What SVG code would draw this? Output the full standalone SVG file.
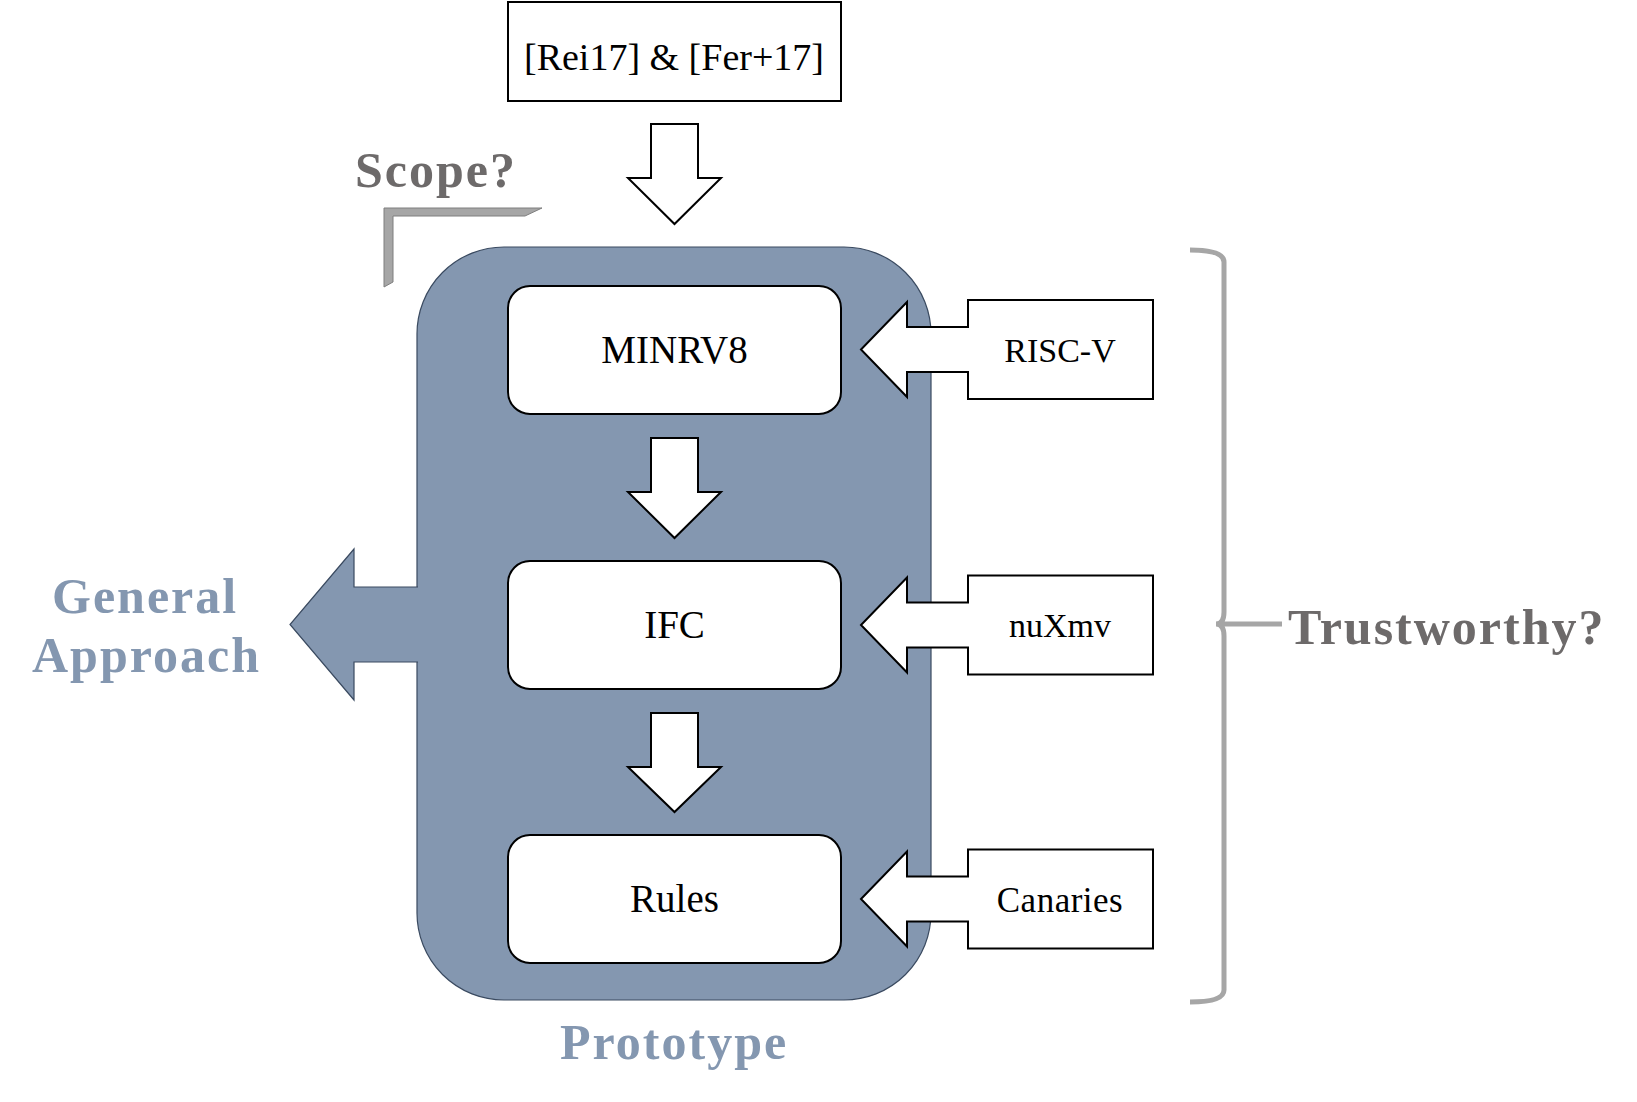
<svg xmlns="http://www.w3.org/2000/svg" width="1637" height="1102" viewBox="0 0 1637 1102">
<style>
.box{fill:#fff;stroke:#000;stroke-width:2}
.arrow{fill:#fff;stroke:#000;stroke-width:2;stroke-linejoin:miter}
.lbl{font-family:"Liberation Serif",serif;fill:#000}
.big{font-family:"Liberation Serif",serif;font-weight:bold;font-size:50px}
.blue{fill:#8497b0}
.gray{fill:#6d6a6a}
</style>
<rect width="1637" height="1102" fill="#fff"/>
<g id="prototype">
<rect x="417" y="247" width="514" height="753" rx="87" ry="87" fill="#8497b0" stroke="#3a4a60" stroke-width="1.2"/>
<text class="big blue" x="560" y="1059" letter-spacing="2">Prototype</text>
</g>
<g id="general-approach">
<polygon points="425,587 354,587 354,549 290,624.5 354,700 354,662 425,662" fill="#8497b0"/>
<polyline points="418,587 354,587 354,549 290,624.5 354,700 354,662 418,662" fill="none" stroke="#3a4a60" stroke-width="1.2"/>
<text class="big blue" x="52" y="613" letter-spacing="2">General</text>
<text class="big blue" x="32" y="672" letter-spacing="2">Approach</text>
</g>
<g id="refs">
<rect class="box" x="508" y="2" width="333" height="99"/>
<text class="lbl" x="674" y="70" font-size="38" text-anchor="middle">[Rei17] &amp; [Fer+17]</text>
</g>
<g id="scope">
<polygon points="384,208 542,208 525,216 393,216 393,282 384,287" fill="#a6a6a6" stroke="#7f7f7f" stroke-width="1"/>
<text class="big gray" x="355" y="187" letter-spacing="2">Scope?</text>
</g>
<g id="minrv8">
<rect class="box" x="508" y="286" width="333" height="128" rx="22" ry="22"/>
<text class="lbl" x="674.5" y="363" font-size="39" text-anchor="middle">MINRV8</text>
</g>
<g id="ifc">
<rect class="box" x="508" y="561" width="333" height="128" rx="22" ry="22"/>
<text class="lbl" x="674.5" y="638" font-size="39" text-anchor="middle">IFC</text>
</g>
<g id="rules">
<rect class="box" x="508" y="835" width="333" height="128" rx="22" ry="22"/>
<text class="lbl" x="674.5" y="912" font-size="39" text-anchor="middle">Rules</text>
</g>
<g id="risc-v">
<polygon class="arrow" points="968,300 1153,300 1153,399 968,399 968,372 907,372 907,397 861,349.5 907,302 907,327 968,327"/>
<text class="lbl" x="1060" y="362" font-size="34" text-anchor="middle">RISC-V</text>
</g>
<g id="nuxmv">
<polygon class="arrow" points="968,575.5 1153,575.5 1153,674.5 968,674.5 968,647.5 907,647.5 907,672.5 861,625 907,577.5 907,602.5 968,602.5"/>
<text class="lbl" x="1060" y="637" font-size="34" text-anchor="middle">nuXmv</text>
</g>
<g id="canaries">
<polygon class="arrow" points="968,849.5 1153,849.5 1153,948.5 968,948.5 968,921.5 907,921.5 907,946.5 861,899 907,851.5 907,876.5 968,876.5"/>
<text class="lbl" x="1060" y="912" font-size="35" text-anchor="middle" letter-spacing="0.5">Canaries</text>
</g>
<g id="trustworthy">
<path d="M1190,250 Q1224,250 1224,262 L1224,612 Q1224,624 1216,624 Q1224,624 1224,636 L1224,990 Q1224,1002 1190,1002 M1221,624 L1282,624" fill="none" stroke="#a6a6a6" stroke-width="5"/>
<text class="big gray" x="1288" y="644" letter-spacing="2">Trustworthy?</text>
</g>
<g id="connectors">
<polygon class="arrow" points="651,124 698,124 698,178 721,178 674.5,224 628,178 651,178"/>
<polygon class="arrow" points="651,438 698,438 698,492 721,492 674.5,538 628,492 651,492"/>
<polygon class="arrow" points="651,713 698,713 698,767 721,767 674.5,812 628,767 651,767"/>
</g>
</svg>
